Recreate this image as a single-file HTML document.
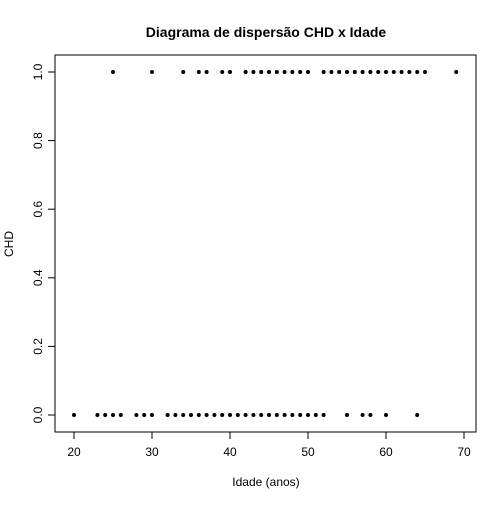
<!DOCTYPE html>
<html><head><meta charset="utf-8"><style>
body{margin:0;background:#fff;font-family:"Liberation Sans",sans-serif;}
svg text{font-family:"Liberation Sans",sans-serif;}
</style></head><body>
<svg id="c" width="504" height="504"></svg>
<script>
const ageOne=[25,30,34,36,37,39,40,42,43,44,45,46,47,48,49,50,52,53,54,55,56,57,58,59,60,61,62,63,64,65,69];
const ageZero=[20,23,24,25,26,28,29,30,32,33,34,35,36,37,38,39,40,41,42,43,44,45,46,47,48,49,50,51,52,55,57,58,60,64];
const xTicks=[20,30,40,50,60,70];
const yTicks=[0,0.2,0.4,0.6,0.8,1.0];
const NS="http://www.w3.org/2000/svg";
const svg=document.getElementById('c');
const X=v=>74+(v-20)*7.8;
const Y=v=>415-v*343;
function el(t,a,txt){const e=document.createElementNS(NS,t);for(const k in a)e.setAttribute(k,a[k]);if(txt!=null)e.textContent=txt;svg.appendChild(e);return e;}
let e;
e=el('rect',{x:55,y:55,width:421,height:377,fill:'none',stroke:'#000'});


e=el('text',{x:266,y:37,'text-anchor':'middle','font-size':14,'font-weight':'bold'},'Diagrama de dispersão CHD x Idade');


e=el('text',{x:266,y:486,'text-anchor':'middle','font-size':12},'Idade (anos)');


e=el('text',{x:13,y:244,'text-anchor':'middle','font-size':12,transform:'rotate(-90 13 244)'},'CHD');


el('line',{x1:X(20),x2:X(70),y1:432,y2:432,stroke:'#000'});
xTicks.forEach(t=>{
 el('line',{x1:X(t),x2:X(t),y1:432,y2:439,stroke:'#000'});
 e=el('text',{x:X(t),y:456,'text-anchor':'middle','font-size':12},t);
 
 
});
el('line',{x1:55,x2:55,y1:Y(0),y2:Y(1),stroke:'#000'});
yTicks.forEach(t=>{
 el('line',{x1:48,x2:55,y1:Y(t),y2:Y(t),stroke:'#000'});
 e=el('text',{x:42,y:Y(t),'text-anchor':'middle','font-size':12,transform:`rotate(-90 42 ${Y(t)})`},t.toFixed(1));
 
 
});
ageOne.forEach(a=>{
 e=el('circle',{cx:X(a),cy:Y(1),r:2,fill:'#000'});
 
 
});
ageZero.forEach(a=>{
 e=el('circle',{cx:X(a),cy:Y(0),r:2,fill:'#000'});
 
 
});
</script>
</body></html>
